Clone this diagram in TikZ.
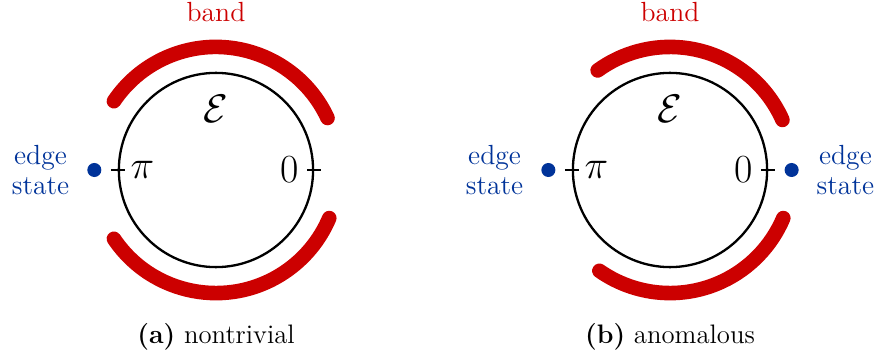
\documentclass[tikz,border=0pt]{standalone}
\usepackage{amsmath}
\usepackage{xcolor}
\usepackage{tikz}
\usetikzlibrary{positioning}
\definecolor{bandred}{RGB}{204,0,0}
\definecolor{edgeblue}{RGB}{0,51,153}
\tikzset{
  ring/.style    = {circle, draw=black, line width=1.2pt, minimum size=101pt, inner sep=0pt},
  bandarc/.style = {draw=bandred, line width=7.6pt, line cap=round},
  estate/.style  = {circle, fill=edgeblue, minimum size=7.3pt, inner sep=0pt},
  elabel/.style  = {text=edgeblue, font=\fontsize{14.4}{15.6}\selectfont, align=center, inner sep=0pt},
  blabel/.style  = {text=bandred, font=\Large, inner sep=0pt},
  klabel/.style  = {font=\huge, inner sep=0pt},
  ktick/.style   = {draw=black, line width=1.2pt},
  sublabel/.style= {font=\fontsize{13.9}{16}\selectfont, anchor=base},
}

\begin{document}
\begin{tikzpicture}
\useasboundingbox (0,0) rectangle (456.56pt,187.2pt);

% ---------------- (a) nontrivial ---------------------------------------
\node[ring] (ringA) at (112.3pt,98.8pt) {};

\draw[bandarc] (ringA.center) ++(25:64pt) arc[start angle=25, end angle=146, radius=64pt];
\draw[bandarc] (ringA.center) ++(214:64pt) arc[start angle=214, end angle=337, radius=64pt];

\draw[ktick] ([xshift=-3.6pt]ringA.west) -- ([xshift=3.6pt]ringA.west);
\draw[ktick] ([xshift=-3.6pt]ringA.east) -- ([xshift=3.6pt]ringA.east);

\node[klabel, right=6.5pt of ringA.west] (piA) {$\pi$};
\node[klabel, left=8pt of ringA.east] (zeroA) {$0$};
\node[klabel, below=12pt of ringA.north] (epsA) {$\mathcal{E}$};

\node[estate, left=8.3pt of ringA.west] (dotA) {};
\node[elabel, left=9pt of dotA] (edgeA) {edge\\state};

\node[blabel, anchor=base] (bandA) at ([yshift=26pt]ringA.north) {band};
\node[sublabel] (capA) at ([yshift=-39pt]ringA.south) {\textbf{(a)} nontrivial};

% ---------------- (b) anomalous ----------------------------------------
\node[ring] (ringB) at (348.4pt,98.8pt) {};

\draw[bandarc] (ringB.center) ++(24:64pt) arc[start angle=24, end angle=126, radius=64pt];
\draw[bandarc] (ringB.center) ++(235:64pt) arc[start angle=235, end angle=337, radius=64pt];

\draw[ktick] ([xshift=-3.6pt]ringB.west) -- ([xshift=3.6pt]ringB.west);
\draw[ktick] ([xshift=-3.6pt]ringB.east) -- ([xshift=3.6pt]ringB.east);

\node[klabel, right=6.5pt of ringB.west] (piB) {$\pi$};
\node[klabel, left=8pt of ringB.east] (zeroB) {$0$};
\node[klabel, below=12pt of ringB.north] (epsB) {$\mathcal{E}$};

\node[estate, left=8.3pt of ringB.west] (dotB1) {};
\node[elabel, left=9pt of dotB1] (edgeB1) {edge\\state};
\node[estate, right=8.3pt of ringB.east] (dotB2) {};
\node[elabel, right=9pt of dotB2] (edgeB2) {edge\\state};

\node[blabel, anchor=base] (bandB) at ([yshift=26pt]ringB.north) {band};
\node[sublabel] (capB) at ([yshift=-39pt]ringB.south) {\textbf{(b)} anomalous};

\end{tikzpicture}
\end{document}
